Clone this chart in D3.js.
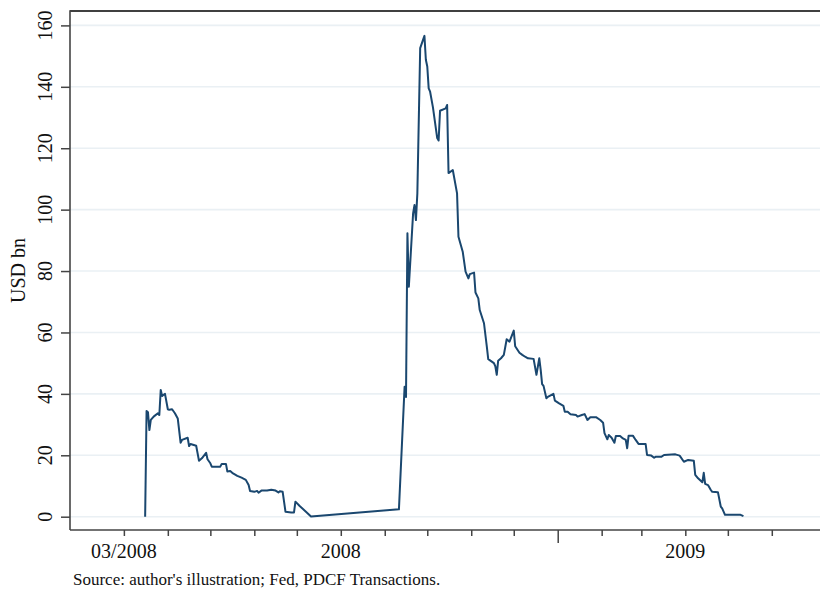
<!DOCTYPE html>
<html>
<head>
<meta charset="utf-8">
<script src="https://cdn.jsdelivr.net/npm/d3@7"></script>
<style>
  html, body { margin: 0; padding: 0; background: #fff; }
  svg { display: block; }
  text { font-family: "Liberation Serif", "Times New Roman", serif; fill: #111; }
</style>
</head>
<body>
<div id="chart"></div>
<script>
// ---- data ----
const dates = [
  "2008-03-16","2008-03-17","2008-03-18","2008-03-19","2008-03-20","2008-03-22","2008-03-25","2008-03-26",
  "2008-03-27","2008-03-28","2008-03-29","2008-03-30","2008-04-01","2008-04-02","2008-04-04","2008-04-06",
  "2008-04-08","2008-04-10","2008-04-11","2008-04-15","2008-04-16","2008-04-17","2008-04-21","2008-04-23",
  "2008-04-25","2008-04-28","2008-04-29","2008-05-01","2008-05-02","2008-05-08","2008-05-09","2008-05-12",
  "2008-05-13","2008-05-15","2008-05-17","2008-05-20","2008-05-23","2008-05-26","2008-05-28","2008-05-29",
  "2008-06-01","2008-06-03","2008-06-04","2008-06-06","2008-06-10","2008-06-13","2008-06-16","2008-06-18",
  "2008-06-19","2008-06-21","2008-06-23","2008-06-27","2008-06-29","2008-06-30","2008-07-03","2008-07-11",
  "2008-09-11","2008-09-15","2008-09-16","2008-09-17","2008-09-18","2008-09-21","2008-09-22","2008-09-23",
  "2008-09-24","2008-09-26","2008-09-28","2008-09-29","2008-09-30","2008-10-01","2008-10-02","2008-10-03",
  "2008-10-05","2008-10-08","2008-10-09","2008-10-10","2008-10-14","2008-10-15","2008-10-16","2008-10-19",
  "2008-10-22","2008-10-23","2008-10-26","2008-10-28","2008-10-30","2008-10-31","2008-11-03","2008-11-04",
  "2008-11-06","2008-11-07","2008-11-10","2008-11-12","2008-11-13","2008-11-14","2008-11-17","2008-11-18",
  "2008-11-19","2008-11-20","2008-11-22","2008-11-24","2008-11-26","2008-11-28","2008-12-01","2008-12-02",
  "2008-12-05","2008-12-07","2008-12-09","2008-12-11","2008-12-15","2008-12-17","2008-12-19","2008-12-20",
  "2008-12-21","2008-12-22","2008-12-24","2008-12-25","2008-12-29","2008-12-30","2009-01-02","2009-01-05",
  "2009-01-06","2009-01-08","2009-01-10","2009-01-14","2009-01-15","2009-01-18","2009-01-20","2009-01-22",
  "2009-01-24","2009-01-28","2009-01-31","2009-02-02","2009-02-03","2009-02-05","2009-02-06","2009-02-08",
  "2009-02-10","2009-02-11","2009-02-14","2009-02-16","2009-02-18","2009-02-19","2009-02-20","2009-02-23",
  "2009-02-25","2009-02-27","2009-03-04","2009-03-05","2009-03-08","2009-03-10","2009-03-11","2009-03-15",
  "2009-03-17","2009-03-25","2009-03-28","2009-03-31","2009-04-03","2009-04-07","2009-04-08","2009-04-10",
  "2009-04-13","2009-04-14","2009-04-15","2009-04-17","2009-04-19","2009-04-20","2009-04-24","2009-04-26",
  "2009-04-27","2009-04-29","2009-05-05","2009-05-10","2009-05-12"
];
const values = [
  0, 34.4, 34.0, 28.2, 31.5, 32.6, 33.7, 33.1,
  41.3, 39.3, 39.7, 40.0, 35.0, 34.8, 35.0, 33.7,
  32.0, 24.1, 25.0, 25.7, 23.0, 23.7, 23.1, 18.2,
  19.0, 20.8, 18.7, 17.4, 16.3, 16.3, 17.2, 17.2,
  14.7, 14.9, 14.1, 13.3, 12.7, 12.0, 10.3, 8.4,
  8.1, 8.4, 7.8, 8.5, 8.5, 8.8, 8.5, 7.9,
  8.3, 8.1, 1.6, 1.4, 1.4, 4.9, 3.5, 0.1,
  2.4, 42.3, 39.0, 92.3, 74.9, 98.8, 101.5, 96.6,
  105.3, 152.6, 155.3, 156.6, 148.8, 146.6, 139.5, 138.4,
  133.3, 123.3, 122.5, 132.2, 133.0, 134.1, 111.9, 112.9,
  105.3, 91.2, 86.3, 79.8, 77.6, 79.0, 79.5, 73.0,
  71.1, 67.3, 63.0, 55.4, 51.3, 51.0, 50.0, 49.0,
  46.2, 50.8, 51.6, 52.7, 57.8, 57.0, 60.6, 55.5,
  53.4, 52.7, 52.1, 51.6, 51.4, 46.2, 51.6, 47.8,
  43.2, 42.6, 38.6, 39.0, 40.0, 37.8, 36.9, 36.1,
  34.2, 34.2, 33.4, 33.1, 32.6, 33.1, 33.4, 31.5,
  32.4, 32.4, 31.5, 30.6, 27.2, 25.2, 26.6, 25.7,
  24.1, 26.3, 26.3, 25.5, 25.0, 22.3, 26.4, 26.4,
  25.0, 23.7, 23.7, 20.1, 19.9, 19.2, 19.5, 19.5,
  20.1, 20.3, 19.9, 17.9, 18.5, 18.2, 13.6, 12.5,
  11.2, 14.3, 10.7, 10.3, 8.7, 8.1, 8.0, 3.3,
  2.7, 0.6, 0.6, 0.6, 0.2
];
const yTicks = [0, 20, 40, 60, 80, 100, 120, 140, 160];
const xTickMonths = ["2008-03-01", "2009-06-01"];        // first and last monthly tick
const xLabelDates = ["2008-03-01", "2008-08-01", "2009-04-01"];
const xLabelTexts = ["03/2008", "2008", "2009"];
const xMajorTick = ["2009-01-01"];
const yTitle = "USD bn";
const sourceNote = "Source: author's illustration; Fed, PDCF Transactions.";
const xDomain = ["2008-01-23", "2009-07-05"];

// ---- drawing ----
(function () {
const W = 820, H = 590;
const mLeft = 70, mRight = 820, mTop = 11, axisY = 530;
const parse = d3.utcParse("%Y-%m-%d");

const svg = d3.select("#chart").append("svg").attr("width", W).attr("height", H);

const x = d3.scaleUtc().domain(xDomain.map(parse)).range([mLeft, mRight]);
const y = d3.scaleLinear().domain([0, 160]).range([516.7, 25.4]);

// gridlines
svg.append("g").selectAll("line").data(yTicks).join("line")
  .attr("x1", mLeft).attr("x2", mRight)
  .attr("y1", d => y(d)).attr("y2", d => y(d))
  .attr("stroke", "#eaf0f4").attr("stroke-width", 1.6);

// top frame
svg.append("line").attr("x1", mLeft).attr("x2", mRight).attr("y1", mTop).attr("y2", mTop)
  .attr("stroke", "#000").attr("stroke-width", 1.6);

// y axis
const yAxis = d3.axisLeft(y).tickValues(yTicks).tickSize(9).tickFormat("");
const gy = svg.append("g").attr("transform", `translate(${mLeft},0)`).call(yAxis);
gy.select(".domain").remove();
gy.selectAll(".tick line").attr("stroke", "#444").attr("stroke-width", 1.5);
svg.append("line").attr("x1", mLeft).attr("x2", mLeft).attr("y1", mTop - 0.8).attr("y2", axisY)
  .attr("stroke", "#444").attr("stroke-width", 1.6);
svg.append("g").selectAll("text").data(yTicks).join("text")
  .attr("transform", d => `translate(52,${y(d)}) rotate(-90)`)
  .attr("text-anchor", "middle")
  .style("font-size", "20px")
  .text(d => d);

// y title
svg.append("text")
  .attr("transform", `translate(25,${(mTop + axisY) / 2}) rotate(-90)`)
  .attr("text-anchor", "middle")
  .style("font-size", "20px")
  .text(yTitle);

// x axis
const months = d3.utcMonth.range(parse(xTickMonths[0]), d3.utcMonth.offset(parse(xTickMonths[1]), 1));
const xAxis = d3.axisBottom(x).tickValues(months).tickSize(6).tickFormat("");
const gx = svg.append("g").attr("transform", `translate(0,${axisY})`).call(xAxis);
gx.select(".domain").remove();
gx.selectAll(".tick line").attr("stroke", "#444").attr("stroke-width", 1.5)
  .attr("y2", d => xMajorTick.map(parse).some(m => +m === +d) ? 13 : 6);
svg.append("line").attr("x1", mLeft).attr("x2", mRight).attr("y1", axisY).attr("y2", axisY)
  .attr("stroke", "#444").attr("stroke-width", 1.6);
svg.append("g").selectAll("text").data(xLabelDates).join("text")
  .attr("x", d => x(parse(d)))
  .attr("y", 558)
  .attr("text-anchor", "middle")
  .style("font-size", "20px")
  .text((d, i) => xLabelTexts[i]);

// line
const data = dates.map((d, i) => ({ date: parse(d), v: values[i] }));
svg.append("path").datum(data)
  .attr("fill", "none")
  .attr("stroke", "#1a476f")
  .attr("stroke-width", 2)
  .attr("stroke-linejoin", "round")
  .attr("d", d3.line().x(d => x(d.date)).y(d => y(d.v)));

// source note
svg.append("text").attr("x", 73).attr("y", 585)
  .style("font-size", "17px")
  .text(sourceNote);
})();
</script>
</body>
</html>
